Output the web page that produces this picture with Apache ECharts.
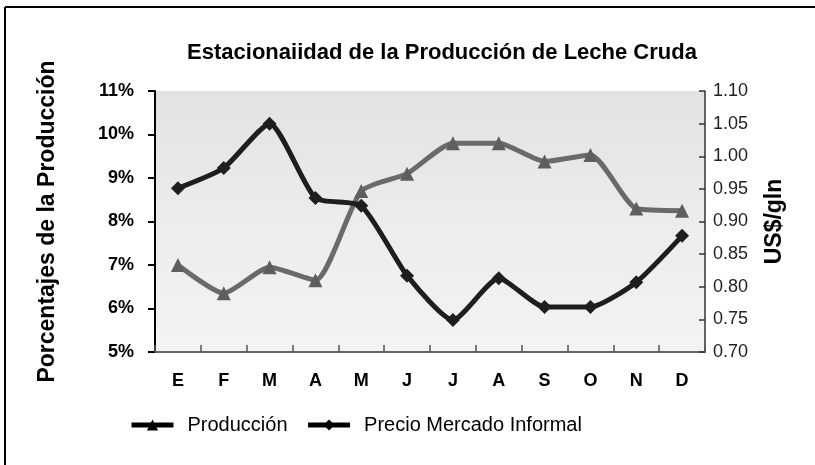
<!DOCTYPE html>
<html>
<head>
<meta charset="utf-8">
<style>
  html, body { margin: 0; padding: 0; background: #fff; }
  #chart { width: 815px; height: 465px; }
</style>
<script src="https://cdn.jsdelivr.net/npm/echarts@6/dist/echarts.min.js"></script>
</head>
<body>
<div id="chart"></div>
<script>
const months = ['E', 'F', 'M', 'A', 'M', 'J', 'J', 'A', 'S', 'O', 'N', 'D']
// % de la producción anual
const produccion = [7.0, 6.35, 6.95, 6.65, 8.7, 9.1, 9.8, 9.8, 9.38, 9.53, 8.3, 8.25]
// US$/gln
const precioInformal = [0.951, 0.982, 1.05, 0.936, 0.924, 0.817, 0.749, 0.813, 0.769, 0.769, 0.807, 0.878]

const FONT = '"Liberation Sans", Arial, sans-serif'

const chart = echarts.init(document.getElementById('chart'))

chart.setOption({
  backgroundColor: '#fff',
  animation: false,
  title: {
    text: 'Estacionaiidad de la Producción de Leche Cruda',
    left: 437,
    top: 37,
    textAlign: 'center',
    textStyle: { fontFamily: FONT, fontWeight: 'bold', fontSize: 22, color: '#000' }
  },
  graphic: [
    { type: 'line', shape: { x1: 5, y1: 7, x2: 5, y2: 465 }, style: { stroke: '#000', lineWidth: 2 } },
    { type: 'line', shape: { x1: 5, y1: 7, x2: 815, y2: 7 }, style: { stroke: '#000', lineWidth: 2 } }
  ],
  legend: {
    left: 124,
    top: 410,
    itemGap: 18,
    itemWidth: 42,
    itemHeight: 14,
    textStyle: { fontFamily: FONT, fontSize: 20, color: '#000', padding: [0, 0, 0, 9] },
    data: [
      { name: 'Producción', itemStyle: { color: '#000' }, lineStyle: { color: '#000', width: 5 } },
      { name: 'Precio Mercado Informal', itemStyle: { color: '#000' }, lineStyle: { color: '#000', width: 5 } }
    ]
  },
  grid: {
    left: 155,
    right: 110,
    top: 91,
    bottom: 113,
    show: true,
    borderWidth: 0,
    backgroundColor: {
      type: 'linear', x: 0, y: 0, x2: 0, y2: 1,
      colorStops: [
        { offset: 0, color: '#e2e2e2' },
        { offset: 0.5, color: '#ececec' },
        { offset: 1, color: '#f3f3f3' }
      ]
    }
  },
  xAxis: {
    type: 'category',
    data: months,
    axisLine: { lineStyle: { color: '#666', width: 2 } },
    axisTick: { show: true, inside: true, length: 7, lineStyle: { color: '#555', width: 1.5 } },
    axisLabel: { fontFamily: FONT, fontWeight: 'bold', fontSize: 18, color: '#000', margin: 20 }
  },
  yAxis: [
    {
      type: 'value',
      min: 5,
      max: 11,
      interval: 1,
      name: 'Porcentajes de la Producción',
      nameLocation: 'middle',
      nameGap: 96,
      nameTextStyle: { fontFamily: FONT, fontWeight: 'bold', fontSize: 23, color: '#000' },
      splitLine: { show: false },
      axisLine: { show: true, onZero: false, lineStyle: { color: '#000', width: 2 } },
      axisTick: { show: true, length: 7, lineStyle: { color: '#000', width: 2 } },
      axisLabel: {
        fontFamily: FONT, fontWeight: 'bold', fontSize: 18, color: '#000', margin: 21,
        formatter: v => v + '%'
      }
    },
    {
      type: 'value',
      min: 0.70,
      max: 1.10,
      interval: 0.05,
      position: 'right',
      name: 'US$/gln',
      nameLocation: 'middle',
      nameGap: 58,
      nameRotate: 90,
      nameTextStyle: { fontFamily: FONT, fontWeight: 'bold', fontSize: 23, color: '#000' },
      splitLine: { show: false },
      axisLine: { show: true, lineStyle: { color: '#333', width: 1.5 } },
      axisTick: { show: true, inside: true, length: 6, lineStyle: { color: '#333', width: 1.5 } },
      axisLabel: {
        fontFamily: FONT, fontSize: 18, color: '#222', margin: 8,
        formatter: v => v.toFixed(2)
      }
    }
  ],
  series: [
    {
      name: 'Producción',
      type: 'line',
      yAxisIndex: 0,
      data: produccion,
      smooth: 0.2,
      symbol: 'triangle',
      symbolSize: 14,
      lineStyle: { color: '#6a6a6a', width: 5 },
      itemStyle: { color: '#5e5e5e' }
    },
    {
      name: 'Precio Mercado Informal',
      type: 'line',
      yAxisIndex: 1,
      data: precioInformal,
      smooth: 0.2,
      symbol: 'diamond',
      symbolSize: 14,
      lineStyle: { color: '#1e1e1e', width: 5 },
      itemStyle: { color: '#1e1e1e' }
    }
  ]
})
</script>
</body>
</html>
